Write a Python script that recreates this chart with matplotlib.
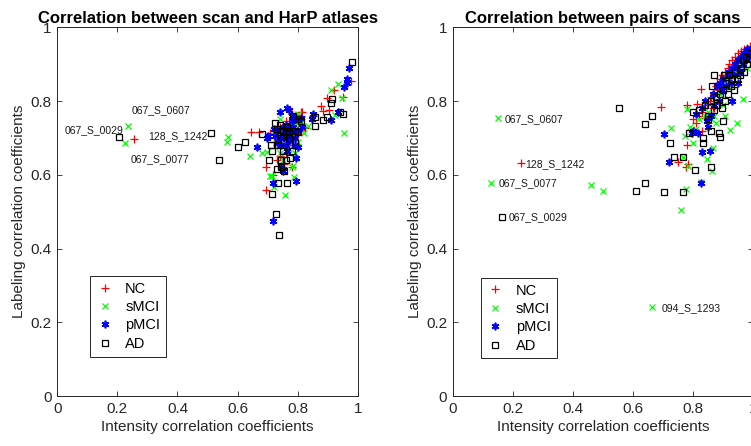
import matplotlib.pyplot as plt

plt.rcParams['font.family'] = ['Liberation Sans', 'DejaVu Sans']

# ---- Left panel: scan vs HarP atlases ----
L_NC = [(0.256, 0.696), (0.644, 0.716), (0.672, 0.715), (0.695, 0.620), (0.694, 0.559),
        (0.717, 0.600), (0.707, 0.712), (0.74, 0.73), (0.76, 0.72), (0.78, 0.765),
        (0.79, 0.76), (0.81, 0.77), (0.81, 0.76), (0.80, 0.74), (0.82, 0.73),
        (0.75, 0.70), (0.77, 0.69), (0.73, 0.68), (0.74, 0.65), (0.75, 0.62),
        (0.76, 0.66), (0.78, 0.62), (0.72, 0.69), (0.79, 0.72), (0.76, 0.745),
        (0.745, 0.715), (0.73, 0.64), (0.755, 0.63), (0.78, 0.70), (0.80, 0.71),
        (0.77, 0.74), (0.785, 0.68), (0.813, 0.77), (0.825, 0.728), (0.877, 0.786),
        (0.886, 0.772), (0.897, 0.807), (0.903, 0.776), (0.921, 0.829), (0.952, 0.812),
        (0.977, 0.853), (0.852, 0.76)]
L_sMCI = [(0.234, 0.733), (0.225, 0.685), (0.567, 0.703), (0.564, 0.688), (0.641, 0.651),
          (0.68, 0.66), (0.697, 0.662), (0.708, 0.597), (0.714, 0.597), (0.721, 0.566),
          (0.758, 0.545), (0.788, 0.594), (0.785, 0.625), (0.78, 0.62), (0.74, 0.75),
          (0.76, 0.73), (0.78, 0.71), (0.80, 0.69), (0.79, 0.66), (0.77, 0.67),
          (0.73, 0.70), (0.75, 0.68), (0.81, 0.74), (0.80, 0.765), (0.765, 0.70),
          (0.74, 0.66), (0.72, 0.72), (0.79, 0.735), (0.75, 0.64), (0.77, 0.72),
          (0.822, 0.714), (0.836, 0.733), (0.911, 0.83), (0.936, 0.845), (0.947, 0.808),
          (0.924, 0.762), (0.954, 0.714)]
L_pMCI = [(0.666, 0.674), (0.697, 0.70), (0.70, 0.705), (0.719, 0.579), (0.795, 0.583),
          (0.719, 0.475), (0.74, 0.77), (0.765, 0.78), (0.77, 0.775), (0.78, 0.76),
          (0.80, 0.75), (0.81, 0.755), (0.75, 0.73), (0.76, 0.72), (0.77, 0.71),
          (0.78, 0.72), (0.79, 0.70), (0.73, 0.72), (0.735, 0.69), (0.745, 0.68),
          (0.76, 0.68), (0.775, 0.695), (0.79, 0.68), (0.80, 0.675), (0.795, 0.645),
          (0.75, 0.71), (0.76, 0.735), (0.78, 0.745), (0.77, 0.73), (0.755, 0.70),
          (0.74, 0.70), (0.72, 0.725), (0.725, 0.705), (0.785, 0.73), (0.765, 0.665),
          (0.745, 0.62), (0.75, 0.61), (0.80, 0.72), (0.815, 0.73), (0.847, 0.751),
          (0.852, 0.764), (0.91, 0.749), (0.936, 0.771), (0.954, 0.837), (0.963, 0.860),
          (0.966, 0.850), (0.972, 0.889)]
L_AD = [(0.205, 0.702), (0.513, 0.714), (0.539, 0.639), (0.600, 0.674), (0.625, 0.688),
        (0.683, 0.711), (0.706, 0.639), (0.716, 0.548), (0.736, 0.577), (0.766, 0.577),
        (0.728, 0.493), (0.737, 0.436), (0.756, 0.611), (0.745, 0.62), (0.713, 0.68),
        (0.715, 0.665), (0.725, 0.74), (0.73, 0.725), (0.74, 0.715), (0.75, 0.72),
        (0.76, 0.71), (0.77, 0.70), (0.78, 0.71), (0.79, 0.72), (0.80, 0.75),
        (0.81, 0.745), (0.785, 0.76), (0.765, 0.73), (0.745, 0.705), (0.755, 0.69),
        (0.735, 0.68), (0.75, 0.665), (0.76, 0.64), (0.78, 0.665), (0.775, 0.645),
        (0.73, 0.615), (0.745, 0.64), (0.79, 0.69), (0.80, 0.715), (0.74, 0.735),
        (0.77, 0.72), (0.858, 0.758), (0.858, 0.731), (0.884, 0.749), (0.897, 0.757),
        (0.911, 0.794), (0.916, 0.805), (0.94, 0.77), (0.952, 0.765), (0.982, 0.905)]
L_labels = [("067_S_0607", 0.248, 0.776, 'left'),
            ("067_S_0029", 0.222, 0.721, 'right'),
            ("128_S_1242", 0.301, 0.705, 'left'),
            ("067_S_0077", 0.243, 0.643, 'left')]

# ---- Right panel: pairs of scans ----
R_NC = [(0.229, 0.632), (0.695, 0.785), (0.751, 0.634), (0.778, 0.620), (0.783, 0.628),
        (0.780, 0.681), (0.779, 0.788), (0.812, 0.791), (0.826, 0.832), (0.80, 0.75),
        (0.81, 0.74), (0.82, 0.76), (0.83, 0.77), (0.84, 0.755), (0.845, 0.79),
        (0.855, 0.80), (0.86, 0.81), (0.865, 0.78), (0.87, 0.82), (0.875, 0.84),
        (0.88, 0.85), (0.885, 0.83), (0.89, 0.86), (0.895, 0.87), (0.90, 0.84),
        (0.905, 0.88), (0.91, 0.87), (0.915, 0.89), (0.92, 0.90), (0.925, 0.88),
        (0.93, 0.91), (0.935, 0.90), (0.94, 0.92), (0.945, 0.91), (0.95, 0.93),
        (0.955, 0.92), (0.96, 0.935), (0.97, 0.94), (0.975, 0.925), (0.98, 0.945),
        (0.989, 0.948), (0.85, 0.74), (0.87, 0.78), (0.83, 0.72)]
R_sMCI = [(0.150, 0.755), (0.127, 0.579), (0.662, 0.241), (0.462, 0.571), (0.501, 0.556),
          (0.760, 0.504), (0.728, 0.728), (0.772, 0.706), (0.779, 0.778), (0.800, 0.687),
          (0.776, 0.561), (0.767, 0.647), (0.783, 0.625), (0.826, 0.58), (0.847, 0.643),
          (0.868, 0.673), (0.862, 0.611), (0.922, 0.722), (0.948, 0.740), (0.967, 0.805),
          (0.79, 0.73), (0.81, 0.725), (0.82, 0.75), (0.84, 0.76), (0.85, 0.77),
          (0.86, 0.75), (0.87, 0.76), (0.88, 0.80), (0.89, 0.82), (0.90, 0.79),
          (0.91, 0.85), (0.92, 0.86), (0.93, 0.84), (0.94, 0.88), (0.95, 0.87),
          (0.96, 0.90), (0.97, 0.91), (0.98, 0.89), (0.985, 0.93), (0.99, 0.92),
          (0.875, 0.74), (0.905, 0.76)]
R_pMCI = [(0.703, 0.710), (0.721, 0.635), (0.795, 0.712), (0.817, 0.714), (0.829, 0.661),
          (0.856, 0.665), (0.826, 0.579), (0.80, 0.72), (0.81, 0.765), (0.83, 0.78),
          (0.84, 0.80), (0.845, 0.745), (0.85, 0.73), (0.86, 0.76), (0.865, 0.82),
          (0.87, 0.79), (0.88, 0.84), (0.885, 0.80), (0.89, 0.85), (0.895, 0.83),
          (0.90, 0.86), (0.91, 0.84), (0.915, 0.87), (0.92, 0.88), (0.925, 0.85),
          (0.93, 0.89), (0.935, 0.87), (0.94, 0.90), (0.945, 0.89), (0.95, 0.91),
          (0.955, 0.88), (0.96, 0.92), (0.965, 0.90), (0.97, 0.93), (0.975, 0.91),
          (0.98, 0.94), (0.985, 0.92), (0.99, 0.935), (0.995, 0.945), (0.93, 0.80),
          (0.95, 0.85)]
R_AD = [(0.163, 0.486), (0.554, 0.780), (0.640, 0.738), (0.665, 0.759), (0.609, 0.555),
        (0.640, 0.579), (0.703, 0.552), (0.767, 0.552), (0.723, 0.685), (0.738, 0.647),
        (0.767, 0.647), (0.806, 0.612), (0.859, 0.620), (0.788, 0.714), (0.834, 0.700),
        (0.834, 0.685), (0.889, 0.702), (0.887, 0.714), (0.864, 0.840), (0.80, 0.77),
        (0.82, 0.775), (0.84, 0.79), (0.85, 0.76), (0.86, 0.80), (0.87, 0.775),
        (0.875, 0.81), (0.88, 0.79), (0.89, 0.82), (0.895, 0.78), (0.90, 0.83),
        (0.905, 0.80), (0.91, 0.85), (0.915, 0.82), (0.92, 0.87), (0.925, 0.84),
        (0.93, 0.86), (0.935, 0.83), (0.94, 0.88), (0.945, 0.86), (0.95, 0.90),
        (0.955, 0.87), (0.96, 0.89), (0.965, 0.91), (0.97, 0.88), (0.975, 0.92),
        (0.98, 0.90), (0.985, 0.915), (0.99, 0.93), (0.87, 0.87), (0.90, 0.745),
        (0.86, 0.72), (0.85, 0.75), (0.904, 0.871)]
R_labels = [("067_S_0607", 0.172, 0.751, 'left'),
            ("128_S_1242", 0.243, 0.629, 'left'),
            ("067_S_0077", 0.152, 0.578, 'left'),
            ("067_S_0029", 0.187, 0.486, 'left'),
            ("094_S_1293", 0.695, 0.239, 'left')]

group_names = ['NC', 'sMCI', 'pMCI', 'AD']
styles = [dict(marker='+', color='red', ms=5.5, mew=0.9),
          dict(marker='x', color=(0, 1, 0), ms=4, mew=0.9),
          dict(marker=(6, 2, 0), color='blue', ms=5.5, mew=1.2),
          dict(marker='s', color='black', mfc='none', ms=4.2, mew=0.9)]
AX_COLOR = '#262626'


def draw_panel(ax, groups, labels, title, legend_xy):
    for name, pts, st in zip(group_names, groups, styles):
        xs = [p[0] for p in pts]
        ys = [p[1] for p in pts]
        ax.plot(xs, ys, linestyle='none', label=name, **st)
    for txt, x, y, ha in labels:
        ax.text(x, y, txt, fontsize=7.5, ha=ha, va='center', color='#1a1a1a')
    ax.set_xlim(0, 1)
    ax.set_ylim(0, 1)
    ticks = [0, 0.2, 0.4, 0.6, 0.8, 1]
    ax.set_xticks(ticks)
    ax.set_yticks(ticks)
    ax.set_xticklabels(['0', '0.2', '0.4', '0.6', '0.8', '1'])
    ax.set_yticklabels(['0', '0.2', '0.4', '0.6', '0.8', '1'])
    ax.tick_params(direction='in', length=3.5, width=0.6, top=True, right=True,
                   labelsize=11, colors=AX_COLOR, pad=4)
    for sp in ax.spines.values():
        sp.set_color(AX_COLOR)
        sp.set_linewidth(0.7)
    ax.set_title(title, fontsize=12, fontweight='bold', pad=3)
    ax.set_xlabel('Intensity correlation coefficients', fontsize=11, color=AX_COLOR, labelpad=3)
    ax.set_ylabel('Labeling correlation coefficients', fontsize=11, color=AX_COLOR, labelpad=3)
    leg = ax.legend(loc='lower left', bbox_to_anchor=legend_xy, fontsize=10.5,
                    fancybox=False, edgecolor=AX_COLOR, framealpha=1,
                    handlelength=1.2, handletextpad=0.8, borderpad=0.4,
                    labelspacing=0.3)
    leg.get_frame().set_linewidth(0.7)


fig = plt.figure(figsize=(7.51, 4.46), dpi=100)
ax1 = fig.add_axes([0.0763, 0.1121, 0.4, 0.8267])
ax2 = fig.add_axes([0.6028, 0.1121, 0.4, 0.8267])

draw_panel(ax1, [L_NC, L_sMCI, L_pMCI, L_AD], L_labels,
           'Correlation between scan and HarP atlases', (0.085, 0.087))
draw_panel(ax2, [R_NC, R_sMCI, R_pMCI, R_AD], R_labels,
           'Correlation between pairs of scans', (0.069, 0.082))

fig.savefig('out.png', dpi=100)
